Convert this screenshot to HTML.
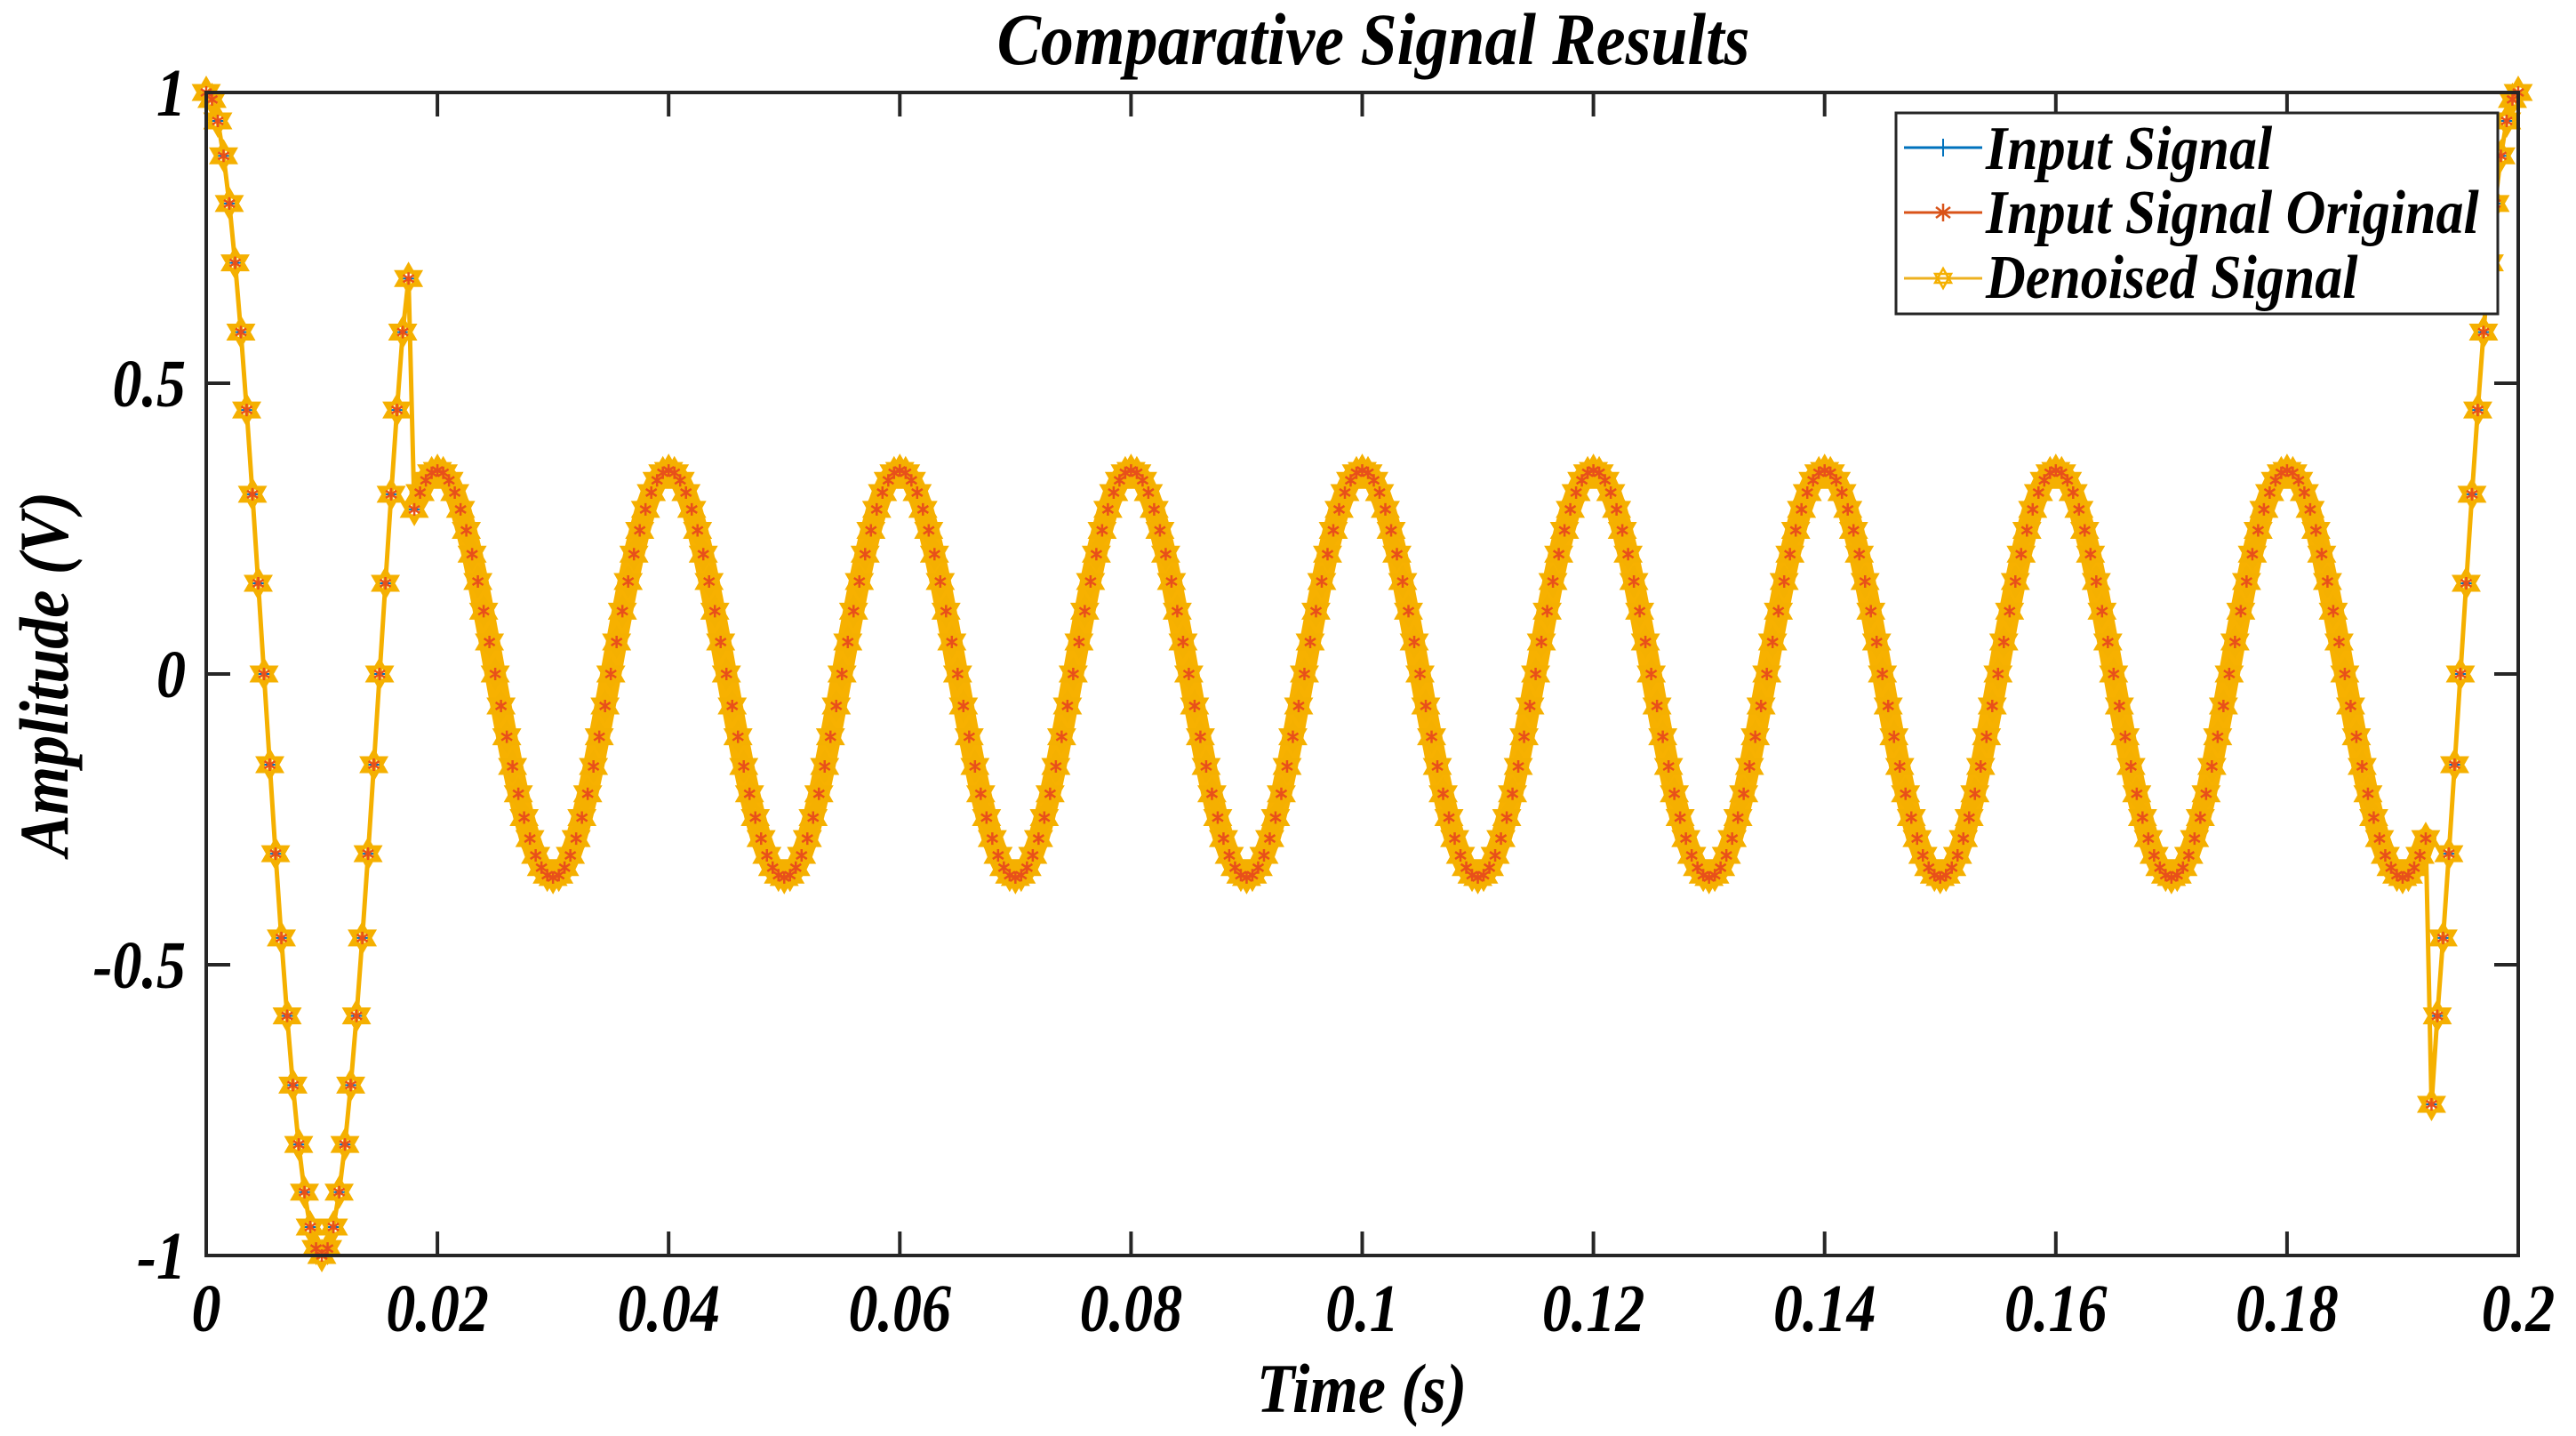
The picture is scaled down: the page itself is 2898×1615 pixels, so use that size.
<!DOCTYPE html>
<html><head><meta charset="utf-8"><title>Comparative Signal Results</title>
<style>
html,body{margin:0;padding:0;background:#fff;}
svg{display:block;}
text{font-family:"Liberation Serif","Times New Roman",serif;font-weight:bold;font-style:italic;fill:#000;}
</style></head>
<body>
<svg id="chart" width="2898" height="1615" viewBox="0 0 2898 1615" xmlns="http://www.w3.org/2000/svg">
  <rect x="232" y="104" width="2601" height="1308" fill="#fff"/>
  <g id="series"></g>
  <rect x="232" y="104" width="2601" height="1308" fill="none" stroke="#262626" stroke-width="4"/>
  <g id="ticks"></g>
  <text transform="translate(1545,72) scale(1,1.12)" x="0" y="0" font-size="74" text-anchor="middle">Comparative Signal Results</text>
  <text transform="translate(1532,1588) scale(1,1.12)" x="0" y="0" font-size="70" text-anchor="middle">Time (s)</text>
  <text transform="translate(76,758) rotate(-90) scale(1,1.12)" font-size="70" text-anchor="middle">Amplitude (V)</text>
  <g>
    <rect x="2133" y="127" width="677" height="226" fill="#fff" stroke="#262626" stroke-width="3"/>
    <g>
      <line x1="2142" y1="166" x2="2230" y2="166" stroke="#0072BD" stroke-width="3"/>
      <line x1="2186" y1="156" x2="2186" y2="176" stroke="#0072BD" stroke-width="2"/>
      <text transform="translate(2234,190) scale(1,1.12)" font-size="62">Input Signal</text>
    </g>
    <g>
      <line x1="2142" y1="239" x2="2230" y2="239" stroke="#D95319" stroke-width="3"/>
      <g stroke="#D95319" stroke-width="2.5">
        <line x1="2186" y1="229" x2="2186" y2="249"/><line x1="2178" y1="233" x2="2194" y2="245"/><line x1="2178" y1="245" x2="2194" y2="233"/>
      </g>
      <text transform="translate(2234,262) scale(1,1.12)" font-size="62">Input Signal Original</text>
    </g>
    <g>
      <line x1="2142" y1="313" x2="2230" y2="313" stroke="#EDB120" stroke-width="3"/>
      <polygon points="2186,302 2195,318 2177,318" fill="none" stroke="#F5B000" stroke-width="2.5"/>
      <polygon points="2186,324 2195,308 2177,308" fill="none" stroke="#F5B000" stroke-width="2.5"/>
      <text transform="translate(2234,335) scale(1,1.12)" font-size="62">Denoised Signal</text>
    </g>
  </g>
</svg>
<script>
const timeStep = 0.0005;
const xTicks = [0, 0.02, 0.04, 0.06, 0.08, 0.1, 0.12, 0.14, 0.16, 0.18, 0.2];
const xTickLabels = ["0","0.02","0.04","0.06","0.08","0.1","0.12","0.14","0.16","0.18","0.2"];
const yTicks = [-1, -0.5, 0, 0.5, 1];
const yTickLabels = ["-1","-0.5","0","0.5","1"];
const inputSignal = [
1,.988,.951,.891,.809,.707,.588,.454,.309,.156,0,-.156,-.309,-.454,-.588,-.707,-.809,-.891,-.951,-.988,
-1,-.988,-.951,-.891,-.809,-.707,-.588,-.454,-.309,-.156,0,.156,.309,.454,.588,.68,.283,.312,.333,.346,
.35,.346,.333,.312,.283,.247,.206,.159,.108,.055,0,-.055,-.108,-.159,-.206,-.247,-.283,-.312,-.333,-.346,-.35,-.346,-.333,-.312,-.283,-.247,-.206,-.159,-.108,-.055,0,.055,.108,.159,.206,.247,.283,.312,.333,.346,
.35,.346,.333,.312,.283,.247,.206,.159,.108,.055,0,-.055,-.108,-.159,-.206,-.247,-.283,-.312,-.333,-.346,-.35,-.346,-.333,-.312,-.283,-.247,-.206,-.159,-.108,-.055,0,.055,.108,.159,.206,.247,.283,.312,.333,.346,
.35,.346,.333,.312,.283,.247,.206,.159,.108,.055,0,-.055,-.108,-.159,-.206,-.247,-.283,-.312,-.333,-.346,-.35,-.346,-.333,-.312,-.283,-.247,-.206,-.159,-.108,-.055,0,.055,.108,.159,.206,.247,.283,.312,.333,.346,
.35,.346,.333,.312,.283,.247,.206,.159,.108,.055,0,-.055,-.108,-.159,-.206,-.247,-.283,-.312,-.333,-.346,-.35,-.346,-.333,-.312,-.283,-.247,-.206,-.159,-.108,-.055,0,.055,.108,.159,.206,.247,.283,.312,.333,.346,
.35,.346,.333,.312,.283,.247,.206,.159,.108,.055,0,-.055,-.108,-.159,-.206,-.247,-.283,-.312,-.333,-.346,-.35,-.346,-.333,-.312,-.283,-.247,-.206,-.159,-.108,-.055,0,.055,.108,.159,.206,.247,.283,.312,.333,.346,
.35,.346,.333,.312,.283,.247,.206,.159,.108,.055,0,-.055,-.108,-.159,-.206,-.247,-.283,-.312,-.333,-.346,-.35,-.346,-.333,-.312,-.283,-.247,-.206,-.159,-.108,-.055,0,.055,.108,.159,.206,.247,.283,.312,.333,.346,
.35,.346,.333,.312,.283,.247,.206,.159,.108,.055,0,-.055,-.108,-.159,-.206,-.247,-.283,-.312,-.333,-.346,-.35,-.346,-.333,-.312,-.283,-.247,-.206,-.159,-.108,-.055,0,.055,.108,.159,.206,.247,.283,.312,.333,.346,
.35,.346,.333,.312,.283,.247,.206,.159,.108,.055,0,-.055,-.108,-.159,-.206,-.247,-.283,-.312,-.333,-.346,-.35,-.346,-.333,-.312,-.283,-.247,-.206,-.159,-.108,-.055,0,.055,.108,.159,.206,.247,.283,.312,.333,.346,
.35,.346,.333,.312,.283,.247,.206,.159,.108,.055,0,-.055,-.108,-.159,-.206,-.247,-.283,-.312,-.333,-.346,-.35,-.346,-.333,-.312,-.283,
-.74,-.588,-.454,-.309,-.156,0,.156,.309,.454,.588,.707,.809,.891,.951,.988,1
];
const originalSignal = inputSignal.slice();
const denoisedSignal = inputSignal.slice();
const denseStart = 36, denseEnd = 384;

const X0=232, X1=2833, Y0=1412, Y1=104, XMIN=0, XMAX=0.2, YMIN=-1, YMAX=1;
function xScale(v){return X0+(v-XMIN)/(XMAX-XMIN)*(X1-X0);}
function yScale(v){return Y0-(v-YMIN)/(YMAX-YMIN)*(Y0-Y1);}
const NS="http://www.w3.org/2000/svg";
const tg=document.getElementById('ticks');
xTicks.forEach((v,i)=>{
  const x=xScale(v);
  const a=document.createElementNS(NS,'path');
  a.setAttribute('d',`M${x},${Y0}V${Y0-27}M${x},${Y1}V${Y1+27}`);
  a.setAttribute('stroke','#262626');a.setAttribute('stroke-width','4');
  
  
  tg.appendChild(a);
  const t=document.createElementNS(NS,'text');
  t.setAttribute('transform',`translate(${x},1497) scale(1,1.15)`);
  t.setAttribute('font-size','66');t.setAttribute('text-anchor','middle');
  t.textContent=xTickLabels[i];
  
  
  tg.appendChild(t);
});
yTicks.forEach((v,i)=>{
  const y=yScale(v);
  const a=document.createElementNS(NS,'path');
  a.setAttribute('d',`M${X0},${y}H${X0+27}M${X1},${y}H${X1-27}`);
  a.setAttribute('stroke','#262626');a.setAttribute('stroke-width','4');
  
  
  tg.appendChild(a);
  const t=document.createElementNS(NS,'text');
  t.setAttribute('transform',`translate(209,${y+26}) scale(1,1.15)`);
  t.setAttribute('font-size','66');t.setAttribute('text-anchor','end');
  t.textContent=yTickLabels[i];
  
  
  tg.appendChild(t);
});

const sg=document.getElementById('series');
function pts(arr){return arr.map((v,i)=>[xScale(i*timeStep),yScale(v)]);}
function drawLine(p2,color,w,name){
  const p=document.createElementNS(NS,'polyline');
  p.setAttribute('points',p2.map(q=>q[0].toFixed(1)+','+q[1].toFixed(1)).join(' '));
  p.setAttribute('fill','none');p.setAttribute('stroke',color);p.setAttribute('stroke-width',w);
  p.setAttribute('stroke-linejoin','round');p.setAttribute('stroke-linecap','round');
  
  
  sg.appendChild(p);
}
drawLine(pts(inputSignal),'#0072BD',3,'input-signal-line');
let d='';
pts(inputSignal).forEach(([x,y])=>{d+=`M${x-8},${y}h16M${x},${y-8}v16`;});
const ip=document.createElementNS(NS,'path');ip.setAttribute('d',d);ip.setAttribute('stroke','#0072BD');ip.setAttribute('stroke-width','2');


sg.appendChild(ip);
drawLine(pts(originalSignal),'#D95319',4,'input-signal-original-line');
drawLine(pts(denoisedSignal),'#F5B000',5,'denoised-signal-line');
// dense marker band where markers overlap continuously
drawLine(pts(denoisedSignal).slice(denseStart+1,denseEnd+1),'#F7B100',24,'denoised-signal-dense-band');
d='';
const r=15;
pts(denoisedSignal).forEach(([x,y])=>{
  d+=`M${x},${y-r}L${x+r*0.866},${y+r/2}L${x-r*0.866},${y+r/2}Z`;
  d+=`M${x},${y+r}L${x+r*0.866},${y-r/2}L${x-r*0.866},${y-r/2}Z`;
});
const dp=document.createElementNS(NS,'path');dp.setAttribute('d',d);dp.setAttribute('fill','#F7B100');dp.setAttribute('stroke','#F5B000');dp.setAttribute('stroke-width','4');


sg.appendChild(dp);
d='';
pts(originalSignal).forEach(([x,y])=>{d+=`M${x},${y-7}v14M${x-6},${y-4}l12,8M${x-6},${y+4}l12,-8`;});
const op=document.createElementNS(NS,'path');op.setAttribute('d',d);op.setAttribute('stroke','#E8501A');op.setAttribute('stroke-width','2.5');


sg.appendChild(op);
</script>
</body></html>
